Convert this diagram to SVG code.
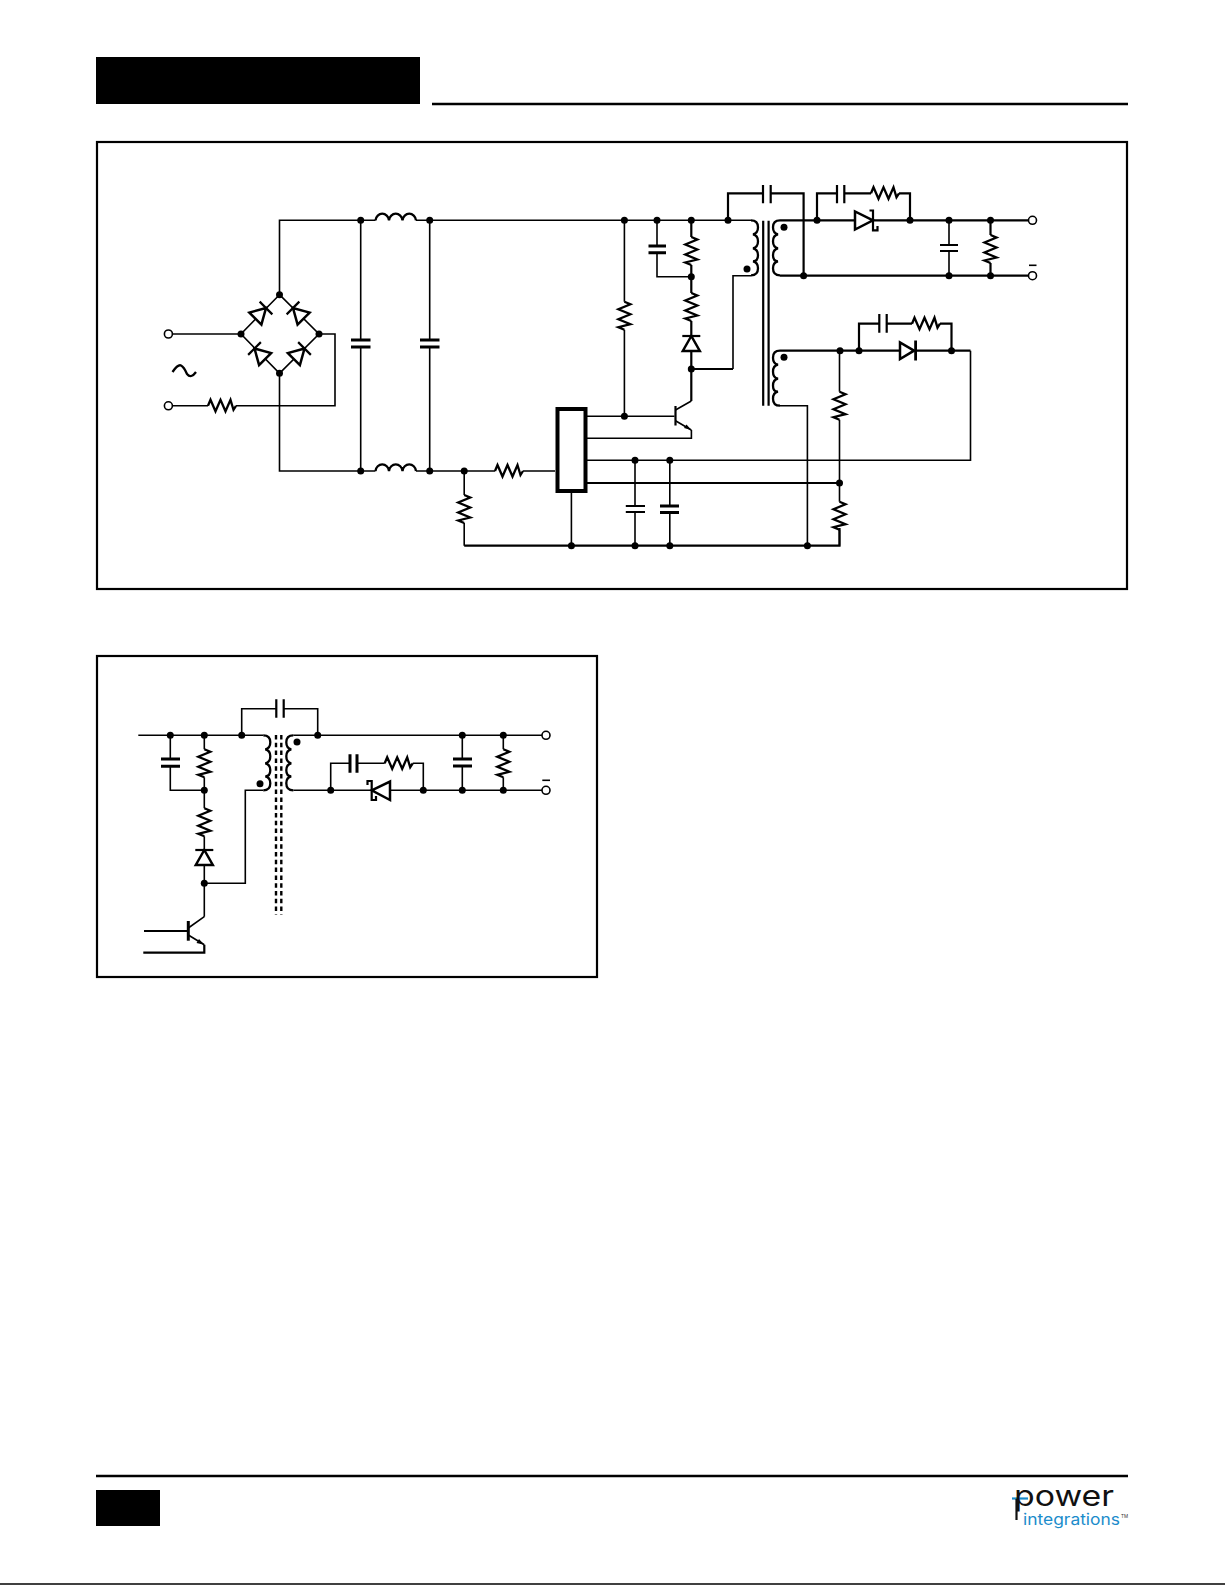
<svg xmlns="http://www.w3.org/2000/svg" width="1225" height="1585" viewBox="0 0 1225 1585">
<style>
.w{fill:none;stroke:#000;stroke-width:1.6}
.t{fill:none;stroke:#000;stroke-width:2.2}
.sym{fill:none;stroke:#000;stroke-width:2.3;stroke-linejoin:miter}
.plate{fill:none;stroke:#000;stroke-width:3}
.tri{fill:#fff;stroke:#000;stroke-width:2.5}
.dot{fill:#000}
.term{fill:#fff;stroke:#000;stroke-width:1.6}
.frame{fill:none;stroke:#000;stroke-width:2.2}
.pw{font-family:"Inter","Open Sans",sans-serif;fill:#111}
.ig{font-family:"Inter","Open Sans",sans-serif;fill:#1b8ccb}
</style>
<defs>
<path id="rh" class="sym" d="M0 0L2.5-6L7.5 5.500L12.500-6L17.500 5.500L22.500-6L25.500 4L28 0"/>
<path id="rv" class="sym" d="M0 0L6 2.500L-6 7.500L6 12.500L-6 17.500L6 22.500L-6 25.500L0 28"/>
<path id="ind" class="sym" d="M0 0a6.800 7.500 0 0 1 13.500 0a6.800 7.500 0 0 1 13.500 0a6.800 7.500 0 0 1 13.500 0"/>
<path id="wdg" class="sym" d="M0 0q7 0 7 7q0 6-5 7q5 1 5 7q0 6-5 7q5 1 5 7q0 6-5 6q5 1 5 7q0 7-7 7"/>
<g id="diode"><path class="tri" d="M0 0L-15-8.500L-15 8.500Z"/><path class="t" d="M0-9L0 9"/></g>
</defs>
<g id="header"><rect x="96" y="57" width="324" height="47" fill="#000"/><path d="M432 104H1128" fill="none" stroke="#000" stroke-width="2.4"/></g>
<g id="frames"><rect class="frame" x="97" y="142" width="1030" height="447"/><rect class="frame" x="97" y="656" width="500" height="321"/></g>

<g id="connectors">
<path class="w" d="M172 334H241"/>
<path class="w" d="M172 405.800H208M236 405.800H335V334H319"/>
<path class="w" d="M279.500 294.700L241 334L279.500 373.300L319 334Z"/>
<path class="w" d="M279.500 294.700V220.300H375.500M416 220.300H751"/>
<path class="w" d="M279.500 373.300V471H375.500M416 471H495M523 471H555"/>
<path class="w" d="M360.700 220.300V340M360.700 347V471M429.700 220.300V340M429.700 347V471"/>
<path class="w" d="M464.200 471V495M464.200 523V545.700"/>
<path class="t" d="M464.200 545.700H839.500V528"/>
<path class="w" d="M571.400 491V545.700"/>
<path class="w" d="M587 416.300H674.500M624.400 220.300V301.700M624.400 329.700V416.300"/>
<path class="w" d="M587 438.300H691.400V430"/>
<path class="w" d="M587 460.300H970.500V350.700"/>
<path class="t" d="M587 483H839.500"/>
<path class="w" d="M635 460.300V506M635 512V545.700M669.800 460.300V506M669.800 512V545.700"/>
<path class="w" d="M839.500 350.700V391.700M839.500 419.700V501.700M839.500 529.700V545.700"/>
<path class="w" d="M657 220.300V246M657 252.700V276.700H691.300"/>
<path class="t" d="M691.300 220.300V237M691.300 265V293M691.300 321V335M691.300 351.700V401"/>
<path class="t" d="M691.300 369H733"/>
<path class="w" d="M733 369V275.700H751"/>
<path class="t" d="M728 220.300V193.300H763M770.700 193.300H803.600V275.700"/>
<path class="t" d="M780 220.300H855M873 220.300H1028.500"/>
<path class="t" d="M780 275.700H1028.500"/>
<path class="t" d="M817 220.300V193.300H837M844.300 193.300H871M899 193.300H910V220.300"/>
<path class="w" d="M949 220.300V245M949 251V275.700"/>
<path class="t" d="M990.500 220.300V235M990.500 263V275.700"/>
<path class="t" d="M780 350.700H900M915 350.700H970.500"/>
<path class="t" d="M859 350.700V323.700H879M887 323.700H912M940 323.700H951.500V350.700"/>
<path class="w" d="M780 405.700H807.400V545.700"/>
<path class="w" d="M138.300 735.300H263.300"/>
<path class="w" d="M293.300 735.300H542"/>
<path class="w" d="M293.300 790.300H542"/>
<path class="w" d="M170.300 735.300V759M170.300 766.300V790.300H204.300"/>
<path class="w" d="M204.300 735.300V749.300M204.300 777.300V808.300M204.300 836.300V849M204.300 866V916.700"/>
<path class="w" d="M204.300 883.300H245.300V790.300H263.300"/>
<path class="w" d="M241.700 735.300V708.700H276.300M283.700 708.700H317.700V735.300"/>
<path class="w" d="M330.700 790.300V763.300H350M357 763.300H384.700M412.700 763.300H423.300V790.300"/>
<path class="w" d="M462.300 735.300V759M462.300 766V790.300M503.300 735.300V749.300M503.300 777.300V790.300"/>
<path class="t" d="M144 931H188.300M143.300 952.700H204.300V944.700"/>
</g>

<g id="bridge">
<use href="#diode" transform="translate(266 308) rotate(-45)"/>
<use href="#diode" transform="translate(293 308) rotate(-135)"/>
<use href="#diode" transform="translate(254.500 348.500) rotate(-135)"/>
<use href="#diode" transform="translate(304.500 348.500) rotate(-45)"/>
</g>
<g id="ac-source"><path class="sym" d="M172.500 372Q178 364 181 365.500T187 374Q191 379 196 372"/></g>
<g id="R-input"><use href="#rh" x="208" y="405.800"/></g>
<g id="L1"><use href="#ind" x="375.500" y="220.300"/></g>
<g id="L2"><use href="#ind" x="375.500" y="471"/></g>
<g id="C1"><path class="plate" d="M351 340H370.500M351 347H370.500"/></g>
<g id="C2"><path class="plate" d="M420 340H439.500M420 347H439.500"/></g>
<g id="R-start"><use href="#rv" x="464.200" y="495"/></g>
<g id="R-line"><use href="#rh" x="495" y="471"/></g>
<g id="IC"><rect x="557.500" y="409" width="28" height="82" fill="#fff" stroke="#000" stroke-width="4"/></g>
<g id="C-bypass1"><path class="t" d="M625.800 506H645M625.800 512H645"/></g>
<g id="C-bypass2"><path class="plate" d="M660 506H679M660 512.500H679"/></g>
<g id="R-fb1"><use href="#rv" x="839.500" y="391.700"/></g>
<g id="R-fb2"><use href="#rv" x="839.500" y="501.700"/></g>
<g id="R-startup"><use href="#rv" x="624.400" y="301.700"/></g>
<g id="Q1"><path class="t" d="M675.500 406V425.500"/><path class="w" d="M675.500 410L691.300 401M675.500 420.700L691.300 430"/><path d="M691.300 430L684 428L686.500 424.500Z"/></g>
<g id="C-clamp"><path class="plate" d="M648.500 246H666M648.500 252.700H666"/></g>
<g id="R-clamp1"><use href="#rv" x="691.300" y="237"/></g>
<g id="R-clamp2"><use href="#rv" x="691.300" y="293"/></g>
<g id="D-clamp"><use href="#diode" transform="translate(691.300 336) rotate(-90)"/></g>
<g id="T1">
<use href="#wdg" x="751" y="220.300"/>
<use href="#wdg" transform="translate(780 220.300) scale(-1 1)"/>
<use href="#wdg" transform="translate(780 350.700) scale(-1 1)"/>
<path class="t" d="M763.200 220.700V405.700M768.600 220.700V405.700"/>
<circle class="dot" cx="747" cy="269" r="3.500"/><circle class="dot" cx="784" cy="227.300" r="3.500"/><circle class="dot" cx="784" cy="357.300" r="3.500"/>
</g>
<g id="C-leak"><path class="t" d="M763 185V203.300M770.700 185V203.300"/></g>
<g id="C-snub"><path class="t" d="M837 185V203.300M844.300 185V203.300"/></g>
<g id="R-snub"><use href="#rh" x="871" y="193.300"/></g>
<g id="D-out"><path class="tri" d="M873 220.300L855 211.500V229.500Z"/><path class="t" d="M869.500 210.500H873V230.300H877.500V226"/></g>
<g id="C-out"><path class="t" d="M940 245H958M940 251H958"/></g>
<g id="R-load"><use href="#rv" x="990.500" y="235"/></g>
<g id="VOUT"><circle class="term" cx="1032.500" cy="220.300" r="4"/><circle class="term" cx="1032.500" cy="275.700" r="4"/><path class="w" d="M1029 265.300H1036.500"/></g>
<g id="IN"><circle class="term" cx="168.400" cy="334" r="4"/><circle class="term" cx="168.400" cy="405.800" r="4"/></g>
<g id="C-aux"><path class="t" d="M879.300 314V332.700M886.700 314V332.700"/></g>
<g id="R-aux"><use href="#rh" x="912" y="323.700"/></g>
<g id="D-aux"><path class="tri" d="M914 350.700L900 342.500V359Z"/><path d="M915.600 340.500V360.500" fill="none" stroke="#000" stroke-width="2.800"/></g>

<g id="lower-C1"><path class="plate" d="M161 759H180M161 766.300H180"/></g>
<g id="lower-R1"><use href="#rv" x="204.300" y="749.300"/></g>
<g id="lower-R2"><use href="#rv" x="204.300" y="808.300"/></g>
<g id="lower-D1"><use href="#diode" transform="translate(204.300 850) rotate(-90)"/></g>
<g id="lower-Q"><path class="plate" d="M188.300 921V940.700"/><path class="w" d="M188.300 928L204.300 916.700M188.300 935L204.300 944.700"/><path d="M204.300 944.700L196.500 943L199 939Z"/></g>
<g id="lower-T">
<use href="#wdg" x="263.300" y="735.300"/>
<use href="#wdg" transform="translate(293.300 735.300) scale(-1 1)"/>
<path d="M276 735V915M281.300 735V915" fill="none" stroke="#000" stroke-width="2.400" stroke-dasharray="4.500 3.300"/>
<circle class="dot" cx="260" cy="783.700" r="3.500"/><circle class="dot" cx="297" cy="742" r="3.500"/>
</g>
<g id="lower-Cleak"><path class="t" d="M276.300 699.300V717.700M283.700 699.300V717.700"/></g>
<g id="lower-Csnub"><path class="plate" d="M350 754.300V772.700M357 754.300V772.700"/></g>
<g id="lower-Rsnub"><use href="#rh" x="384.700" y="763.300"/></g>
<g id="lower-D2"><path class="tri" d="M371.700 790.300L390 781.500V800Z"/><path class="t" d="M367.500 785V781H371.700V800H376V796"/></g>
<g id="lower-Cout"><path class="plate" d="M453 759H472M453 766H472"/></g>
<g id="lower-Rload"><use href="#rv" x="503.300" y="749.300"/></g>
<g id="lower-VOUT"><circle class="term" cx="546" cy="735.300" r="4"/><circle class="term" cx="546" cy="790.300" r="4"/><path class="w" d="M542.300 780.300H550"/></g>

<g id="junctions" class="dot">
<circle cx="279.500" cy="294.700" r="3.500"/><circle cx="241" cy="334" r="3.500"/><circle cx="319" cy="334" r="3.500"/><circle cx="279.500" cy="373.300" r="3.500"/>
<circle cx="360.700" cy="220.300" r="3.500"/><circle cx="429.700" cy="220.300" r="3.500"/><circle cx="360.700" cy="471" r="3.500"/><circle cx="429.700" cy="471" r="3.500"/><circle cx="464.200" cy="471" r="3.500"/>
<circle cx="624.400" cy="220.300" r="3.500"/><circle cx="657" cy="220.300" r="3.500"/><circle cx="691.300" cy="220.300" r="3.500"/><circle cx="728" cy="220.300" r="3.500"/>
<circle cx="691.300" cy="276.700" r="3.500"/><circle cx="691.300" cy="369" r="3.500"/><circle cx="624.400" cy="416.300" r="3.500"/>
<circle cx="817" cy="220.300" r="3.500"/><circle cx="910" cy="220.300" r="3.500"/><circle cx="949" cy="220.300" r="3.500"/><circle cx="990.500" cy="220.300" r="3.500"/>
<circle cx="803.600" cy="275.700" r="3.500"/><circle cx="949" cy="275.700" r="3.500"/><circle cx="990.500" cy="275.700" r="3.500"/>
<circle cx="840" cy="350.700" r="3.500"/><circle cx="859" cy="350.700" r="3.500"/><circle cx="951.500" cy="350.700" r="3.500"/>
<circle cx="635" cy="460.300" r="3.500"/><circle cx="669.800" cy="460.300" r="3.500"/><circle cx="839.500" cy="483" r="3.500"/>
<circle cx="571.400" cy="545.700" r="3.500"/><circle cx="635" cy="545.700" r="3.500"/><circle cx="669.800" cy="545.700" r="3.500"/><circle cx="807.400" cy="545.700" r="3.500"/>
<circle cx="170.300" cy="735.300" r="3.500"/><circle cx="204.300" cy="735.300" r="3.500"/><circle cx="241.700" cy="735.300" r="3.500"/><circle cx="317.700" cy="735.300" r="3.500"/><circle cx="462.300" cy="735.300" r="3.500"/><circle cx="503.300" cy="735.300" r="3.500"/>
<circle cx="204.300" cy="790.300" r="3.500"/><circle cx="204.300" cy="883.300" r="3.500"/><circle cx="330.700" cy="790.300" r="3.500"/><circle cx="423.300" cy="790.300" r="3.500"/><circle cx="462.300" cy="790.300" r="3.500"/><circle cx="503.300" cy="790.300" r="3.500"/>
</g>

<g id="footer">
<path d="M96 1476H1128" fill="none" stroke="#000" stroke-width="2.300"/>
<rect x="96" y="1490" width="64" height="36" fill="#000"/>
<path d="M0 1584H1225" fill="none" stroke="#000" stroke-width="1.500"/>
</g>
<g id="logo">
<path d="M1012 1498.500H1028" stroke="#1b8ccb" stroke-width="2.200" fill="none"/>
<path d="M1016.500 1499V1520" stroke="#111" stroke-width="2.200" fill="none"/>
<text class="pw" x="1014" y="1506" font-size="28" textLength="100" lengthAdjust="spacingAndGlyphs">power</text>
<text class="ig" x="1023" y="1525" font-size="15.500" textLength="97" lengthAdjust="spacingAndGlyphs">integrations</text>
<text x="1121" y="1518" font-size="4.500" font-family="Inter,sans-serif" fill="#333">TM</text>
</g>
</svg>
